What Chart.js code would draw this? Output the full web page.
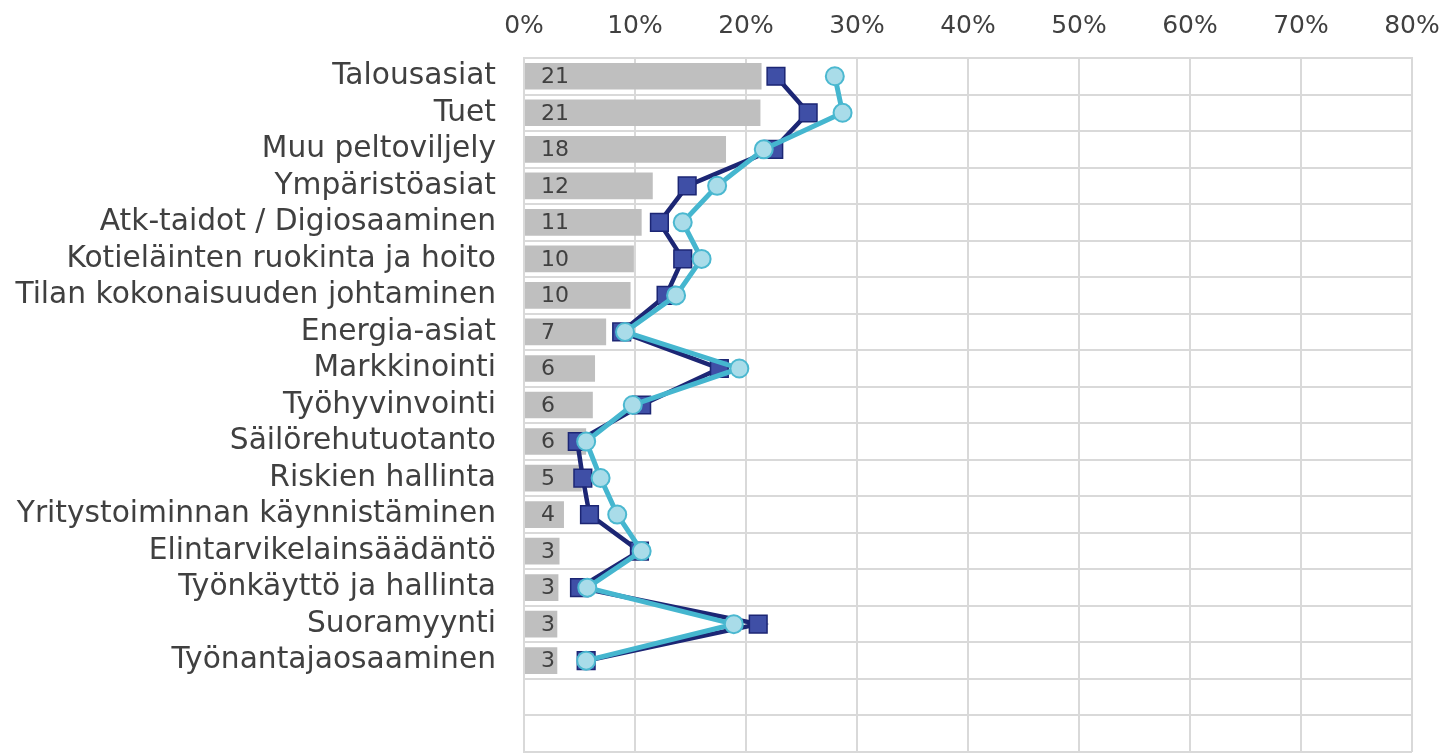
<!DOCTYPE html>
<html>
<head>
<meta charset="utf-8">
<script src="https://cdn.jsdelivr.net/npm/chart.js@4.4.1/dist/chart.umd.min.js"></script>
<style>
  html, body { margin: 0; padding: 0; background: #fff; overflow: hidden; }
  canvas { display: block; }
</style>
</head>
<body>
<canvas id="chart" width="1446" height="766"></canvas>
<script>
// categories (two empty rows at the bottom like in the original)
const categories = ['Talousasiat', 'Tuet', 'Muu peltoviljely', 'Ympäristöasiat',
  'Atk-taidot / Digiosaaminen', 'Kotieläinten ruokinta ja hoito',
  'Tilan kokonaisuuden johtaminen', 'Energia-asiat', 'Markkinointi',
  'Työhyvinvointi', 'Säilörehutuotanto', 'Riskien hallinta',
  'Yritystoiminnan käynnistäminen', 'Elintarvikelainsäädäntö',
  'Työnkäyttö ja hallinta', 'Suoramyynti', 'Työnantajaosaaminen', '', ''];

// gray bars, percent
const barValues = [21.4, 21.3, 18.2, 11.6, 10.6, 9.9, 9.6, 7.4, 6.4, 6.2, 5.6, 5.2, 3.6, 3.2, 3.1, 3.0, 3.0];
// dark blue squares
const darkValues = [22.7, 25.6, 22.5, 14.7, 12.2, 14.3, 12.8, 8.8, 17.6, 10.6, 4.8, 5.3, 5.9, 10.4, 5.0, 21.1, 5.6];
// light blue circles
const lightValues = [28.0, 28.7, 21.6, 17.4, 14.3, 16.0, 13.7, 9.1, 19.4, 9.8, 5.6, 6.9, 8.4, 10.6, 5.7, 18.9, 5.6];

const xTicks = [0, 10, 20, 30, 40, 50, 60, 70, 80];

// labels inside the bars
const barLabels = {
  id: 'barLabels',
  afterDatasetsDraw(chart) {
    const meta = chart.getDatasetMeta(2);
    const ctx = chart.ctx;
    ctx.save();
    ctx.font = '22px "DejaVu Sans"';
    ctx.fillStyle = '#404040';
    ctx.textBaseline = 'middle';
    meta.data.forEach((bar, i) => {
      ctx.fillText(String(Math.round(barValues[i])), bar.base + 16, bar.y + 1);
    });
    ctx.restore();
  }
};

function noPadding(scale) {
  scale.paddingLeft = 0;
  scale.paddingRight = 0;
  scale.paddingTop = 0;
  scale.paddingBottom = 0;
}

new Chart(document.getElementById('chart'), {
  data: {
    labels: categories,
    datasets: [
      {
        type: 'line',
        data: lightValues,
        order: 0,
        borderColor: '#45B6CF',
        borderWidth: 5,
        pointStyle: 'circle',
        pointRadius: 9,
        pointBackgroundColor: '#A9DCE9',
        pointBorderColor: '#4BB8D0',
        pointBorderWidth: 2,
        tension: 0
      },
      {
        type: 'line',
        data: darkValues,
        order: 1,
        borderColor: '#1C2674',
        borderWidth: 4.5,
        pointStyle: 'rect',
        pointRadius: 12.5,
        pointBackgroundColor: '#3F4FA6',
        pointBorderColor: '#1C2674',
        pointBorderWidth: 1.5,
        tension: 0
      },
      {
        type: 'bar',
        data: barValues,
        order: 2,
        backgroundColor: '#BFBFBF',
        barPercentage: 0.73,
        categoryPercentage: 1
      }
    ]
  },
  options: {
    indexAxis: 'y',
    responsive: false,
    animation: false,
    layout: { padding: { left: 0, right: 34, top: 0, bottom: 4 } },
    plugins: { legend: { display: false }, tooltip: { enabled: false } },
    scales: {
      x: {
        position: 'top',
        min: 0,
        max: 80,
        afterBuildTicks(scale) {
          scale.ticks = xTicks.map(v => ({ value: v }));
        },
        afterFit(scale) {
          scale.height = 58;
          noPadding(scale);
        },
        ticks: {
          color: '#404040',
          font: { family: '"DejaVu Sans"', size: 25 },
          padding: 17,
          callback: v => v + '%'
        },
        grid: { color: '#D9D9D9', lineWidth: 2, drawTicks: false },
        border: { display: true, color: '#D9D9D9', width: 2 }
      },
      y: {
        afterFit(scale) {
          scale.width = 524;
          noPadding(scale);
        },
        ticks: {
          color: '#404040',
          font: { family: '"DejaVu Sans"', size: 29.7 },
          padding: 28,
          autoSkip: false
        },
        grid: { color: '#D9D9D9', lineWidth: 2, offset: true, drawTicks: false },
        border: { display: true, color: '#D9D9D9', width: 2 }
      }
    }
  },
  plugins: [barLabels]
});
</script>
</body>
</html>
